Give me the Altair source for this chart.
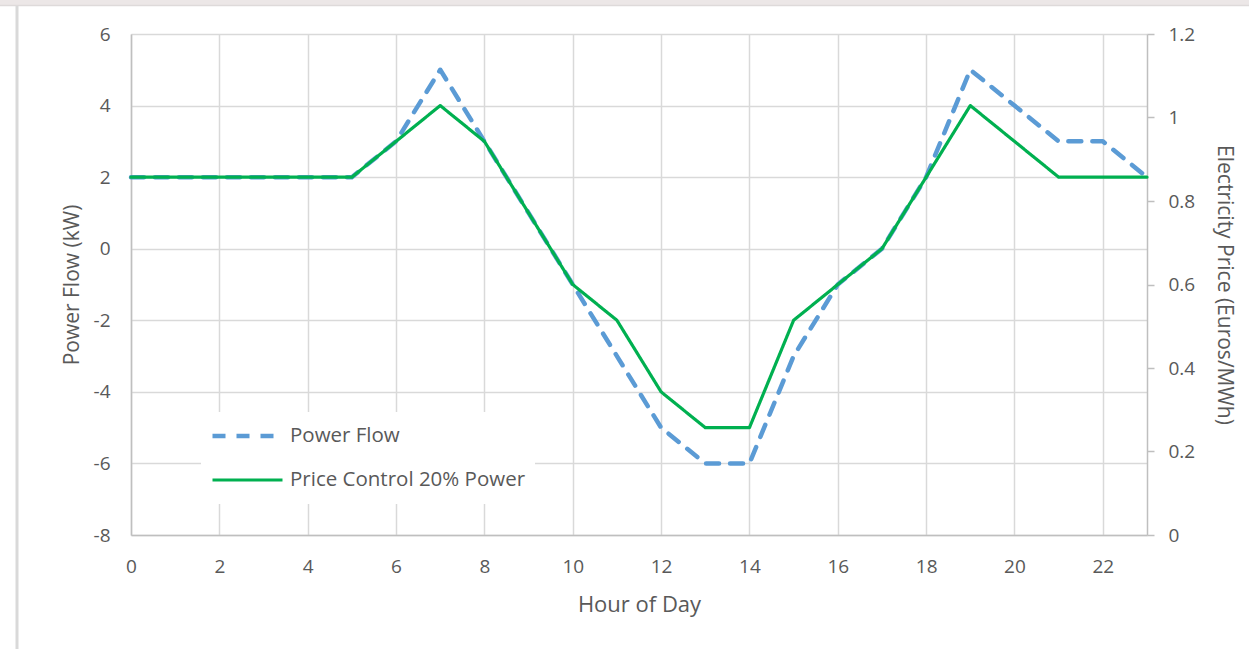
import altair as alt
import pandas as pd

# Hourly power flow profiles (kW)
hours = list(range(24))
power_flow = [2, 2, 2, 2, 2, 2, 3, 5, 3, 1, -1, -3, -5, -6, -6, -3, -1, 0, 2, 5, 4, 3, 3, 2]
price_control = [2, 2, 2, 2, 2, 2, 3, 4, 3, 1, -1, -2, -4, -5, -5, -2, -1, 0, 2, 4, 3, 2, 2, 2]

series_names = ["Power Flow", "Price Control 20% Power"]
series_colors = ["#5b9bd5", "#00b050"]

# Secondary axis ticks (Euros/MWh)
price_ticks = [0, 0.2, 0.4, 0.6, 0.8, 1.0, 1.2]

x_ticks = list(range(0, 23, 2))
y_ticks = list(range(-8, 7, 2))

FONT = "Open Sans"
GREY_TEXT = "#595959"
GRID = "#d9d9d9"
AXIS_LINE = "#bfbfbf"

rows = []
for h, a, b in zip(hours, power_flow, price_control):
    rows.append({"hour": h, "kW": a, "series": series_names[0]})
    rows.append({"hour": h, "kW": b, "series": series_names[1]})
df = pd.DataFrame(rows)

legend_style = dict(
    title=None, orient="none", legendX=70, legendY=378,
    fillColor="white", padding=9, symbolType="stroke", symbolSize=4900,
    symbolStrokeWidth=4, labelFontSize=20.5, labelColor=GREY_TEXT,
    labelFont=FONT, rowPadding=14, clipHeight=30, labelOffset=5, labelLimit=0,
)

x_enc = alt.X(
    "hour:Q",
    scale=alt.Scale(domain=[0, 23], nice=False),
    axis=alt.Axis(
        title="Hour of Day", values=x_ticks, grid=True, gridColor=GRID, gridWidth=1.5,
        ticks=False, domainColor=AXIS_LINE, domainWidth=1.5, labelPadding=22,
        titlePadding=18, labelFlush=False, titleFontSize=22,
    ),
)

lines = alt.Chart(df).mark_line(strokeCap="round", strokeJoin="round").encode(
    x=x_enc,
    y=alt.Y(
        "kW:Q",
        scale=alt.Scale(domain=[-8, 6], nice=False),
        axis=alt.Axis(
            title="Power Flow (kW)", values=y_ticks, grid=True, gridColor=GRID, gridWidth=1.5,
            ticks=False, domainColor=AXIS_LINE, domainWidth=1.5, labelPadding=21,
            titlePadding=11, labelExpr="'' + datum.value",
        ),
    ),
    color=alt.Color(
        "series:N",
        scale=alt.Scale(domain=series_names, range=series_colors),
        legend=alt.Legend(**legend_style),
    ),
    strokeDash=alt.StrokeDash(
        "series:N",
        scale=alt.Scale(domain=series_names, range=[[13, 11], [1, 0]]),
        legend=alt.Legend(**legend_style),
    ),
    strokeWidth=alt.StrokeWidth(
        "series:N",
        scale=alt.Scale(domain=series_names, range=[4.5, 3.2]),
        legend=None,
    ),
)

price_axis = alt.Chart(pd.DataFrame({"price": price_ticks})).mark_tick(opacity=0).encode(
    y=alt.Y(
        "price:Q",
        scale=alt.Scale(domain=[0, 1.2], nice=False),
        axis=alt.Axis(
            title="Electricity Price (Euros/MWh)", orient="right", values=price_ticks,
            grid=False, ticks=True, tickSize=7, tickColor=AXIS_LINE, tickWidth=1.5,
            domainColor=AXIS_LINE, domainWidth=1.5, labelPadding=14, titlePadding=19,
            format="~g",
        ),
    ),
)

# Window frame around the chart: a grey strip along the top and a rule on the left
frame_src = pd.DataFrame({"k": [0]})
top_strip = alt.Chart(frame_src).mark_rule(color="#ece7e7", strokeWidth=5).encode(
    x=alt.value(-131), x2=alt.value(1118), y=alt.value(-31.5)
)
top_edge = alt.Chart(frame_src).mark_rule(color="#dedada", strokeWidth=1.5).encode(
    x=alt.value(-131), x2=alt.value(1118), y=alt.value(-28.5)
)
left_edge = alt.Chart(frame_src).mark_rule(color="#d9d9d9", strokeWidth=3).encode(
    x=alt.value(-114), y=alt.value(-28), y2=alt.value(615)
)

chart = (
    alt.layer(top_strip, top_edge, left_edge, lines, price_axis)
    .resolve_scale(y="independent")
    .properties(
        width=1016,
        height=501,
        autosize=alt.AutoSizeParams(type="none"),
        padding={"left": 131, "top": 34, "right": 102, "bottom": 114},
        background="white",
    )
    .configure_view(stroke=None)
    .configure_axis(
        labelFont=FONT, titleFont=FONT, labelFontSize=19, titleFontSize=21,
        labelColor=GREY_TEXT, titleColor=GREY_TEXT, titleFontWeight="normal",
    )
)

chart.save("out.html", embed_options={"renderer": "svg", "actions": False})
